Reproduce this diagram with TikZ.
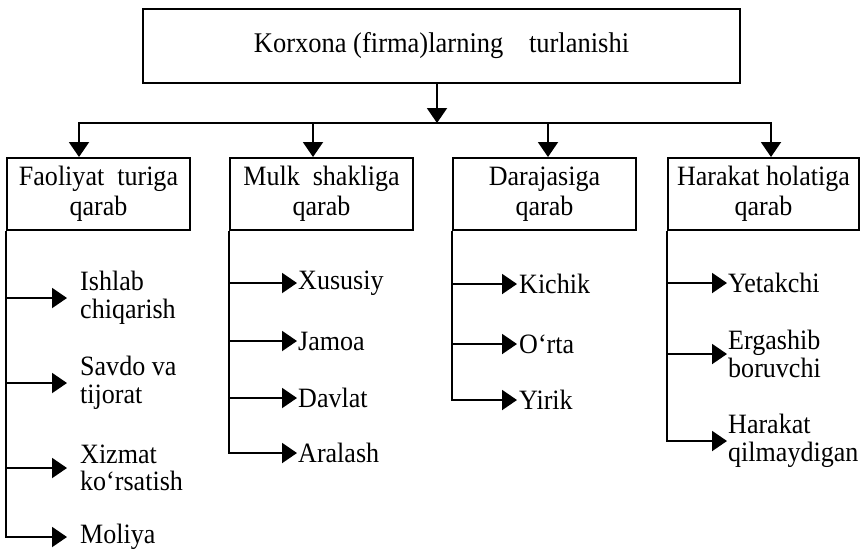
\documentclass[tikz,border=0pt]{standalone}
\usepackage{fontspec}
\setmainfont{Liberation Serif}[FakeStretch=0.93]
\usetikzlibrary{arrows.meta,calc}
\begin{document}
\begin{tikzpicture}[x=1pt,y=-1pt,
  conn/.style={line width=2pt},
  arr/.style={conn,-{Triangle[length=15pt,width=20pt]}},
  topbox/.style={draw,line width=2.5pt,minimum width=597pt,minimum height=74pt,inner sep=0pt,font=\fontsize{28.5}{30}\selectfont},
  catbox/.style={draw,line width=2pt,minimum height=72pt,inner sep=0pt,align=center,font=\fontsize{28}{30}\selectfont},
  leaf/.style={anchor=west,inner sep=0pt,align=left,font=\fontsize{28}{27.5}\selectfont}]
\useasboundingbox (0,0) rectangle (864,550);

\node[topbox] (top) at (441.5,46) {Korxona (firma)larning\hspace{0.9em}turlanishi\hspace{12pt}};

\node[catbox,minimum width=183pt] (f1) at (98.5,194) {Faoliyat\ \ turiga\\qarab};
\node[catbox,minimum width=183pt] (f2) at (321.5,194) {Mulk\ \ shakliga\\qarab};
\node[catbox,minimum width=183pt] (f3) at (544.5,194) {Darajasiga\\qarab};
\node[catbox,minimum width=191pt] (f4) at (763.5,194) {Harakat holatiga\\qarab};

\coordinate (t0) at (437,123);
\coordinate (b1) at (79,123);
\coordinate (b2) at (313,123);
\coordinate (b3) at (548,123);
\coordinate (b4) at (771,123);

\draw[conn,line cap=rect] (b1) -- (b4);
\draw[arr] (top.south -| t0) -- (t0);
\draw[arr] (b1) -- (b1 |- f1.north);
\draw[arr] (b2) -- (b2 |- f2.north);
\draw[arr] (b3) -- (b3 |- f3.north);
\draw[arr] (b4) -- (b4 |- f4.north);

% column 1
\node[leaf] (l11) at (80,298) {Ishlab\\chiqarish};
\node[leaf] (l12) at (80,383) {Savdo va\\tijorat};
\node[leaf] (l13) at (80,468) {Xizmat\\ko‘rsatish};
\node[leaf] (l14) at (80,537) {Moliya};
\draw[arr,shorten >=13pt] (f1.south west) |- (l14.west);
\draw[arr,shorten >=13pt] (f1.south west |- l11.west) -- (l11.west);
\draw[arr,shorten >=13pt] (f1.south west |- l12.west) -- (l12.west);
\draw[arr,shorten >=13pt] (f1.south west |- l13.west) -- (l13.west);

% column 2
\node[leaf] (l21) at (298,283) {Xususiy};
\node[leaf] (l22) at (298,341) {Jamoa};
\node[leaf] (l23) at (298,398) {Davlat};
\node[leaf] (l24) at (298,453) {Aralash};
\draw[arr,shorten >=1pt] (f2.south west) |- (l24.west);
\draw[arr,shorten >=1pt] (f2.south west |- l21.west) -- (l21.west);
\draw[arr,shorten >=1pt] (f2.south west |- l22.west) -- (l22.west);
\draw[arr,shorten >=1pt] (f2.south west |- l23.west) -- (l23.west);

% column 3
\node[leaf] (l31) at (519,284) {Kichik};
\node[leaf] (l32) at (519,344) {O‘rta};
\node[leaf] (l33) at (519,400) {Yirik};
\draw[arr,shorten >=2pt] (f3.south west) |- (l33.west);
\draw[arr,shorten >=2pt] (f3.south west |- l31.west) -- (l31.west);
\draw[arr,shorten >=2pt] (f3.south west |- l32.west) -- (l32.west);

% column 4
\node[leaf] (l41) at (728,283) {Yetakchi};
\node[leaf] (l42) at (728,354) {Ergashib\\boruvchi};
\node[leaf] (l43) at (728,441) {Harakat\\qilmaydigan};
\draw[arr,shorten >=1pt] (f4.south west) |- (l43.west);
\draw[arr,shorten >=1pt] (f4.south west |- l41.west) -- (l41.west);
\draw[arr,shorten >=1pt] (f4.south west |- l42.west) -- (l42.west);
\end{tikzpicture}
\end{document}
